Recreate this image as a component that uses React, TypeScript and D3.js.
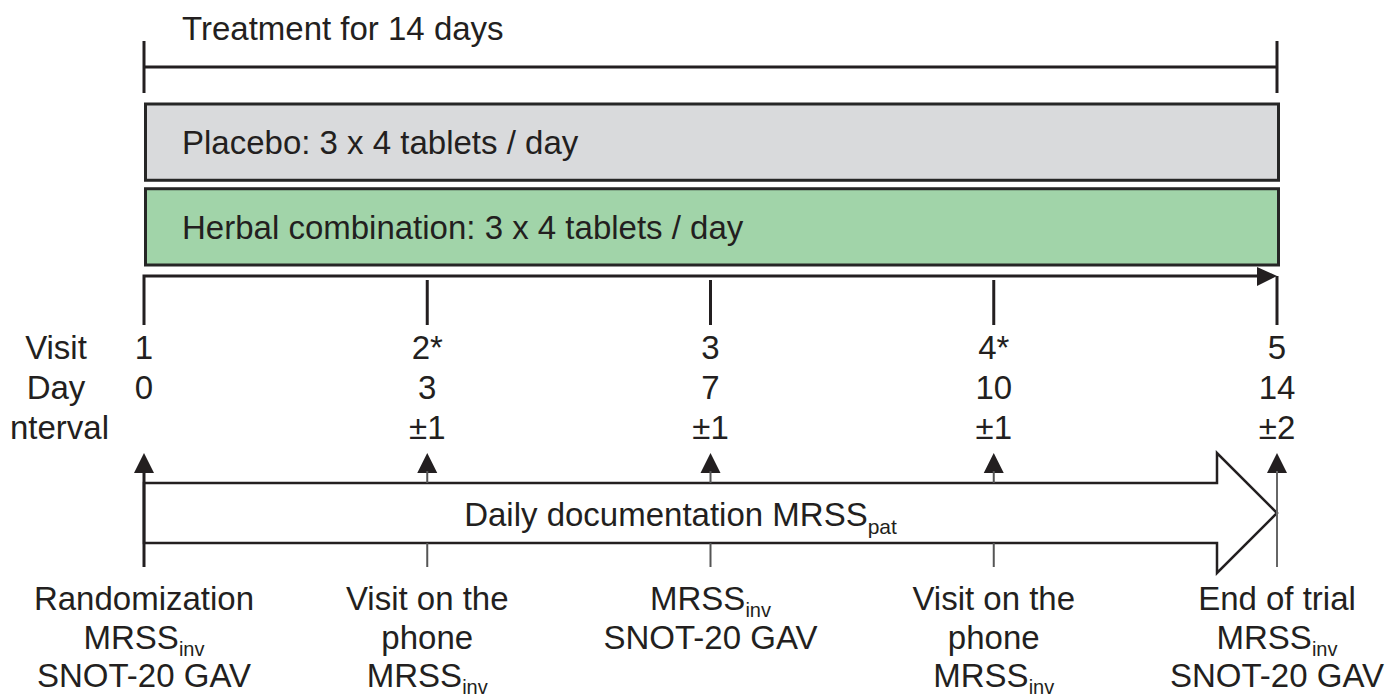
import { useEffect, useRef } from "react";
import * as d3 from "d3";

// study timeline data
const visits = ["1", "2*", "3", "4*", "5"];
const days = ["0", "3", "7", "10", "14"];
const intervals = ["", "±1", "±1", "±1", "±2"];
const rowLabels = ["Visit", "Day", "Interval"];

const treatmentLabel = "Treatment for 14 days";
const arms = ["Placebo: 3 x 4 tablets / day", "Herbal combination: 3 x 4 tablets / day"];
const armColors = ["#d9dadc", "#a1d4a9"];

const dailyLabel = { text: "Daily documentation MRSS", sub: "pat" };

// bottom notes per visit, each line: [text, subscript]
const visitNotes: [string, string][][] = [
  [["Randomization", ""], ["MRSS", "inv"], ["SNOT-20 GAV", ""]],
  [["Visit on the", ""], ["phone", ""], ["MRSS", "inv"]],
  [["MRSS", "inv"], ["SNOT-20 GAV", ""]],
  [["Visit on the", ""], ["phone", ""], ["MRSS", "inv"]],
  [["End of trial", ""], ["MRSS", "inv"], ["SNOT-20 GAV", ""]],
];

const W = 1388;
const H = 698;
const INK = "#231f20";
const GREY = "#555";
const FONT = "'Liberation Sans', Arial, sans-serif";
const FS = 33;

export default function App() {
  const svgRef = useRef<SVGSVGElement>(null);

  useEffect(() => {
    if (!svgRef.current) return;
    const svg = d3.select(svgRef.current);
    svg.selectAll("*").remove();

    const x = d3.scalePoint<string>().domain(visits).range([144, 1277]);
    const x0 = x(visits[0])!;
    const x1 = x(visits[visits.length - 1])!;

    const g = svg.append("g").attr("font-family", FONT).attr("fill", INK);

    // treatment bracket
    g.append("text").attr("x", 182).attr("y", 40).attr("font-size", FS).text(treatmentLabel);
    g.append("line").attr("x1", x0).attr("x2", x1).attr("y1", 67).attr("y2", 67)
      .attr("stroke", INK).attr("stroke-width", 3);
    [x0, x1].forEach((xx) => {
      g.append("line").attr("x1", xx).attr("x2", xx).attr("y1", 41).attr("y2", 93)
        .attr("stroke", INK).attr("stroke-width", 3);
    });

    // arm boxes
    const armY = d3.scaleBand<number>().domain([0, 1]).range([104, 265]).paddingInner(0.1);
    arms.forEach((label, i) => {
      const y = armY(i)!;
      g.append("rect")
        .attr("x", x0 + 1.5).attr("y", y)
        .attr("width", x1 - x0).attr("height", armY.bandwidth())
        .attr("fill", armColors[i]).attr("stroke", "#262626").attr("stroke-width", 3);
      g.append("text").attr("x", 182).attr("y", y + armY.bandwidth() / 2 + 12)
        .attr("font-size", FS).text(label);
    });

    // timeline arrow with visit ticks
    const tlY = 276;
    g.append("path")
      .attr("d", `M${x0},${tlY + 49}V${tlY}H${x1 - 18}`)
      .attr("fill", "none").attr("stroke", INK).attr("stroke-width", 3);
    g.append("path")
      .attr("d", `M${x1 - 20},${tlY - 9}L${x1},${tlY}L${x1 - 20},${tlY + 10}Z`)
      .attr("fill", INK);
    visits.slice(1).forEach((v) => {
      g.append("line").attr("x1", x(v)!).attr("x2", x(v)!)
        .attr("y1", v === visits[visits.length - 1] ? tlY : tlY + 4).attr("y2", tlY + 49)
        .attr("stroke", INK).attr("stroke-width", 3);
    });

    // row labels (left column); the source image is cropped at its left edge
    const rowY = [359, 399, 439];
    const clipRect = svg.append("defs").append("clipPath").attr("id", "crop")
      .append("rect").attr("x", 0).attr("y", 0).attr("width", W).attr("height", H);
    const rows = g.append("g").attr("clip-path", "url(#crop)");
    rowLabels.forEach((r, i) => {
      const t = rows.append("text").attr("x", i === 2 ? 109 : 56).attr("y", rowY[i])
        .attr("font-size", FS)
        .attr("text-anchor", i === 2 ? "end" : "middle")
        .text(r);
      if (i === 2) {
        const node = t.node() as SVGTextElement;
        const nx = node.getStartPositionOfChar(1).x;
        clipRect.attr("x", nx + 0.5);
      }
    });
    [visits, days, intervals].forEach((vals, i) => {
      vals.forEach((val, j) => {
        g.append("text").attr("x", x(visits[j])!).attr("y", rowY[i]).attr("font-size", FS)
          .attr("text-anchor", "middle").text(val);
      });
    });

    // big hollow arrow: daily documentation
    const aTop = 483, aBot = 543, aMid = (aTop + aBot) / 2, notch = x1 - 60, headH = 60;
    g.append("path")
      .attr("d", `M${x0},${aTop}H${notch}V${aMid - headH}L${x1},${aMid}L${notch},${aMid + headH}V${aBot}H${x0}Z`)
      .attr("fill", "#fff").attr("stroke", INK).attr("stroke-width", 2.5);
    const dt = g.append("text").attr("x", (x0 + notch) / 2).attr("y", 526)
      .attr("font-size", FS).attr("text-anchor", "middle");
    dt.append("tspan").text(dailyLabel.text);
    dt.append("tspan").attr("font-size", 21).attr("dy", 8).text(dailyLabel.sub);

    // small up arrows and connecting lines
    const upTip = 453, upBase = 473, lineEnd = 567;
    visits.forEach((v, i) => {
      const xx = x(v)!;
      g.append("path")
        .attr("d", `M${xx - 10},${upBase}L${xx},${upTip}L${xx + 10},${upBase}Z`)
        .attr("fill", INK);
      if (i === 0) {
        g.append("line").attr("x1", xx).attr("x2", xx).attr("y1", upBase - 2).attr("y2", lineEnd)
          .attr("stroke", INK).attr("stroke-width", 3);
      } else if (i === visits.length - 1) {
        g.append("line").attr("x1", xx).attr("x2", xx).attr("y1", upBase - 2).attr("y2", lineEnd)
          .attr("stroke", "#666").attr("stroke-width", 2);
      } else {
        g.append("line").attr("x1", xx).attr("x2", xx).attr("y1", upBase - 2).attr("y2", aTop)
          .attr("stroke", GREY).attr("stroke-width", 2);
        g.append("line").attr("x1", xx).attr("x2", xx).attr("y1", aBot).attr("y2", lineEnd)
          .attr("stroke", GREY).attr("stroke-width", 2);
      }
    });

    // notes under each visit
    const noteY = [610, 649, 687];
    visitNotes.forEach((lines, i) => {
      const xx = x(visits[i])!;
      lines.forEach(([txt, sub], k) => {
        const t = g.append("text").attr("x", xx).attr("y", noteY[k])
          .attr("font-size", FS).attr("text-anchor", "middle");
        t.append("tspan").text(txt);
        if (sub) t.append("tspan").attr("font-size", 20).attr("dy", 7).text(sub);
      });
    });
  }, []);

  return (
    <svg
      ref={svgRef}
      width={W}
      height={H}
      style={{ position: "absolute", left: 0, top: 0, background: "#fff" }}
    />
  );
}
